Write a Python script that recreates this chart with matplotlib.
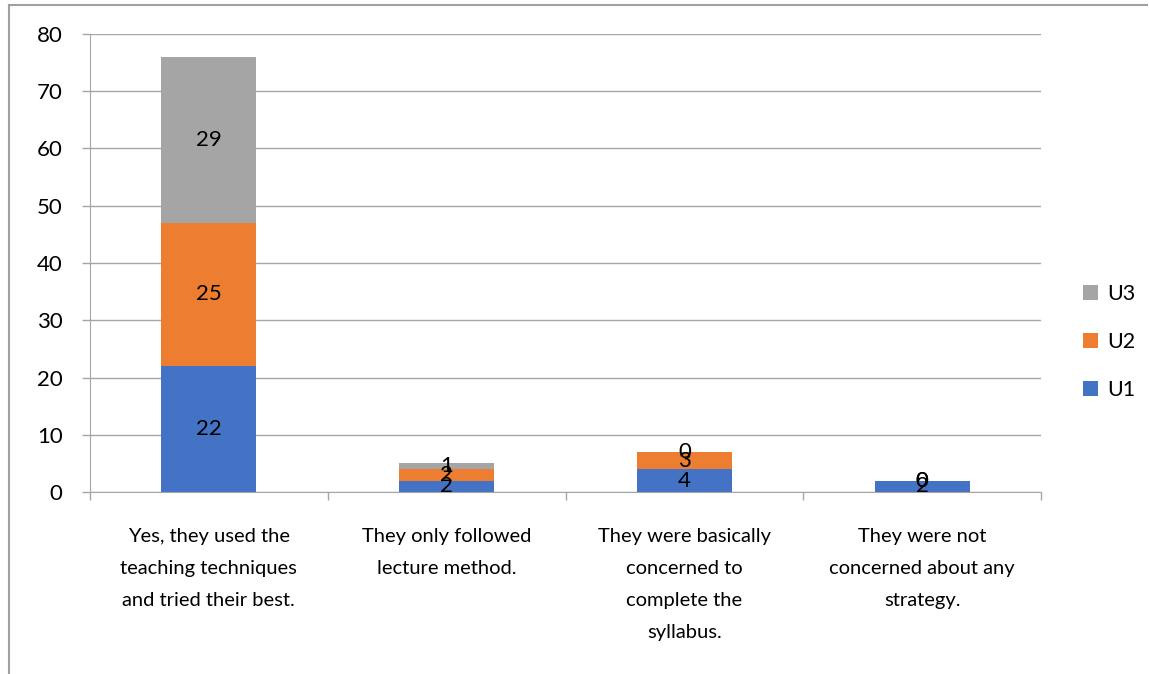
import matplotlib
matplotlib.use("Agg")
import matplotlib.pyplot as plt
from matplotlib.lines import Line2D
from matplotlib.patches import Patch

plt.rcParams['font.family'] = ['Lato', 'DejaVu Sans']

categories = [
    "Yes, they used the\nteaching techniques\nand tried their best.",
    "They only followed\nlecture method.",
    "They were basically\nconcerned to\ncomplete the\nsyllabus.",
    "They were not\nconcerned about any\nstrategy.",
]
u1 = [22, 2, 4, 2]
u2 = [25, 2, 3, 0]
u3 = [29, 1, 0, 0]
series = [("U1", u1, "#4472C4"), ("U2", u2, "#ED7D31"), ("U3", u3, "#A5A5A5")]
yticks = [0, 10, 20, 30, 40, 50, 60, 70, 80]

W, H = 1149, 674
fig = plt.figure(figsize=(W / 100, H / 100), dpi=100)
ax = fig.add_axes([90 / W, 1 - 492 / H, (1041 - 90) / W, (492 - 34) / H])

x = list(range(len(categories)))
bottom = [0] * len(categories)
handles = []
for name, vals, color in series:
    ax.bar(x, vals, width=0.4, bottom=bottom, color=color, zorder=3)
    for xi, v, b in zip(x, vals, bottom):
        ax.text(xi, b + v / 2, str(v), ha="center", va="center",
                fontsize=16, color="black", zorder=4)
    bottom = [b + v for b, v in zip(bottom, vals)]
    handles.append(Patch(facecolor=color, label=name))

ax.set_xlim(-0.5, len(categories) - 0.5)
ax.set_ylim(0, 80)
ax.set_yticks(yticks)
ax.set_yticklabels([str(t) for t in yticks], fontsize=16)
ax.yaxis.grid(True, color="#A6A6A6", linewidth=1, zorder=0)
ax.tick_params(axis="y", length=5.8, color="#A6A6A6", width=1, pad=14)

# category labels centred under each bar, tick marks on the boundaries
ax.set_xticks([i + 0.5 for i in range(-1, len(categories))])
ax.set_xticklabels([])
ax.tick_params(axis="x", length=5.8, color="#A6A6A6", width=1, direction="out")
for xi, lab in zip(x, categories):
    ax.text(xi, -6.3, lab, ha="center", va="top", fontsize=14.5,
            linespacing=2.08, transform=ax.transData)

for side in ["top", "right"]:
    ax.spines[side].set_visible(False)
ax.spines["left"].set_color("#A6A6A6")
ax.spines["bottom"].set_color("#A6A6A6")
ax.spines["left"].set_bounds(0, 80)

fig.legend(handles=handles[::-1], loc="center left",
           bbox_to_anchor=(1064 / W, 1 - 342 / H), frameon=False,
           fontsize=15.5, handlelength=0.7, handleheight=0.7,
           handletextpad=0.4, labelspacing=1.3)

# outer frame lines
fig.add_artist(Line2D([9 / W, 9 / W], [0, 1 - 5 / H], transform=fig.transFigure,
                      color="#A0A0A0", linewidth=1.5))
fig.add_artist(Line2D([9 / W, 1147 / W], [1 - 5 / H, 1 - 5 / H],
                      transform=fig.transFigure, color="#A0A0A0", linewidth=1.5))

fig.savefig("out.png", dpi=100)
